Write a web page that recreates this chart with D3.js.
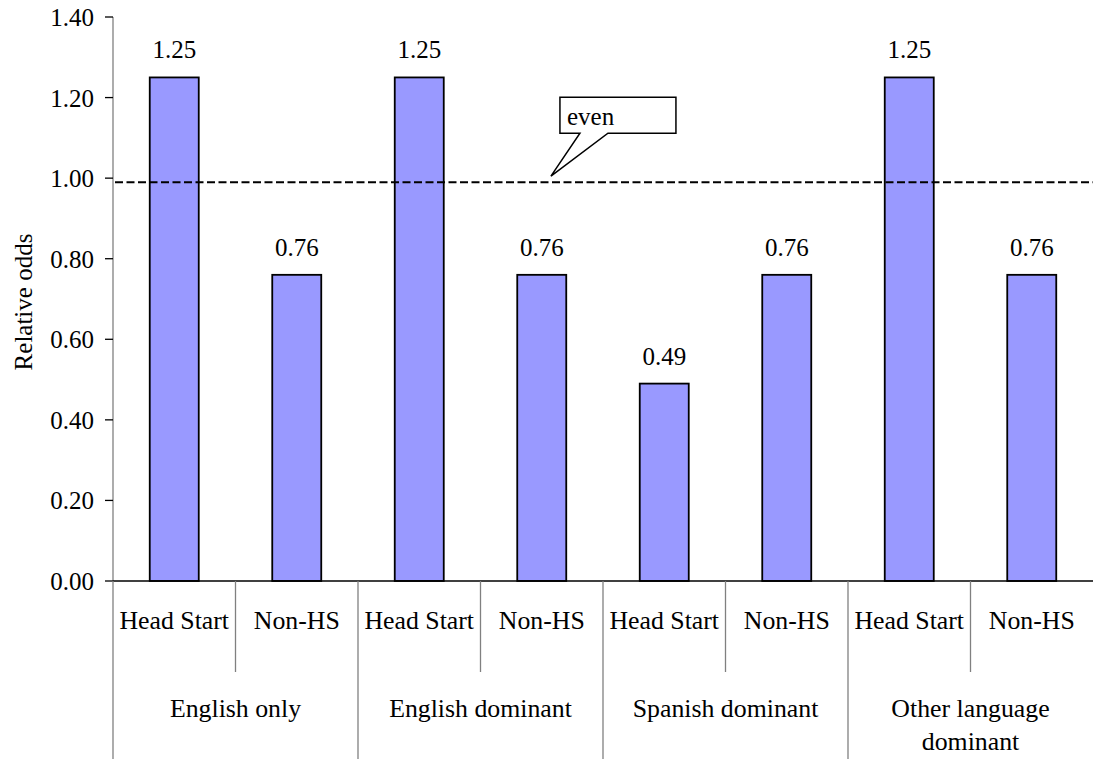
<!DOCTYPE html>
<html><head><meta charset="utf-8">
<script src="https://cdn.jsdelivr.net/npm/d3@7"></script>
<style>body{margin:0;background:#fff}svg{display:block}text{font-family:"Liberation Serif","Times New Roman",serif;fill:#000}</style>
</head><body><svg id="c" width="1093" height="759"></svg>
<script>
const groups = ["English only","English dominant","Spanish dominant","Other language dominant"];
const subs = ["Head Start","Non-HS"];
const values = [1.25,0.76,1.25,0.76,0.49,0.76,1.25,0.76];
const yTicks = [0,0.2,0.4,0.6,0.8,1.0,1.2,1.4];
const evenValue = 0.99;
const evenLabel = "even";
const yTitle = "Relative odds";

(function(){
const svg = d3.select("#c");
const pL = 113, pR = 1093, pT = 17, pB = 581;
const cats = d3.range(values.length);
const x = d3.scaleBand().domain(cats).range([pL,pR]).paddingInner(0.6).paddingOuter(0.3);
const xb = d3.scaleBand().domain(cats).range([pL,pR]);
const y = d3.scaleLinear().domain([0,1.4]).range([pB,pT]);
const fs = 25, fc = 25.8;

// y axis
svg.append("line").attr("x1",pL).attr("x2",pL).attr("y1",pT).attr("y2",pB).attr("stroke","#808080").attr("stroke-width",1.3);
yTicks.forEach(t=>{
  svg.append("line").attr("x1",pL-8).attr("x2",pL).attr("y1",y(t)).attr("y2",y(t)).attr("stroke","#000").attr("stroke-width",1.3);
  svg.append("text").attr("x",pL-19).attr("y",y(t)+9).attr("text-anchor","end").attr("font-size",fs).text(d3.format(".2f")(t));
});
svg.append("text").attr("transform",`translate(32,302) rotate(-90)`).attr("text-anchor","middle").attr("font-size",fs).text(yTitle);

// bars
svg.selectAll("rect.bar").data(values).join("rect")
  .attr("x",(d,i)=>x(i)).attr("width",x.bandwidth())
  .attr("y",d=>y(d)).attr("height",d=>y(0)-y(d))
  .attr("fill","#9999FF").attr("stroke","#000").attr("stroke-width",1.8);
svg.selectAll("text.val").data(values).join("text")
  .attr("x",(d,i)=>x(i)+x.bandwidth()/2).attr("y",d=>y(d)-19)
  .attr("text-anchor","middle").attr("font-size",fs).text(d=>d3.format(".2f")(d));

// x axis
svg.append("line").attr("x1",pL).attr("x2",pR).attr("y1",pB).attr("y2",pB).attr("stroke","#000").attr("stroke-width",1.3);
cats.forEach(i=>{
  const major = i%2===0;
  svg.append("line").attr("x1",xb(i)).attr("x2",xb(i)).attr("y1",pB).attr("y2",major?759:672).attr("stroke","#808080").attr("stroke-width",1.3);
  svg.append("text").attr("x",xb(i)+xb.bandwidth()/2).attr("y",629).attr("text-anchor","middle").attr("font-size",fc).text(subs[i%2]);
});
groups.forEach((g,k)=>{
  const cx = xb(2*k)+xb.bandwidth();
  const t = svg.append("text").attr("x",cx).attr("y",717).attr("text-anchor","middle").attr("font-size",fc);
  if(g==="Other language dominant"){
    t.append("tspan").attr("x",cx).text("Other language");
    t.append("tspan").attr("x",cx).attr("dy",33).text("dominant");
  } else t.text(g);
});

// even line
svg.append("line").attr("x1",pL+2).attr("x2",pR).attr("y1",y(evenValue)).attr("y2",y(evenValue))
  .attr("stroke","#000").attr("stroke-width",2).attr("stroke-dasharray","8,3.5");

// callout
const tipX = xb(3)+xb.bandwidth()*0.575, tipY = y(evenValue)-6;
const bx = tipX+9, by = tipY-79, bw = 116, bh = 36;
svg.append("path").attr("d",`M${bx},${by}H${bx+bw}V${by+bh}H${tipX+57}L${tipX},${tipY}L${tipX+29},${by+bh}H${bx}Z`)
  .attr("fill","#fff").attr("stroke","#000").attr("stroke-width",1.5);
svg.append("text").attr("x",bx+7).attr("y",by+28).attr("font-size",fs).text(evenLabel);
})();
</script></body></html>
